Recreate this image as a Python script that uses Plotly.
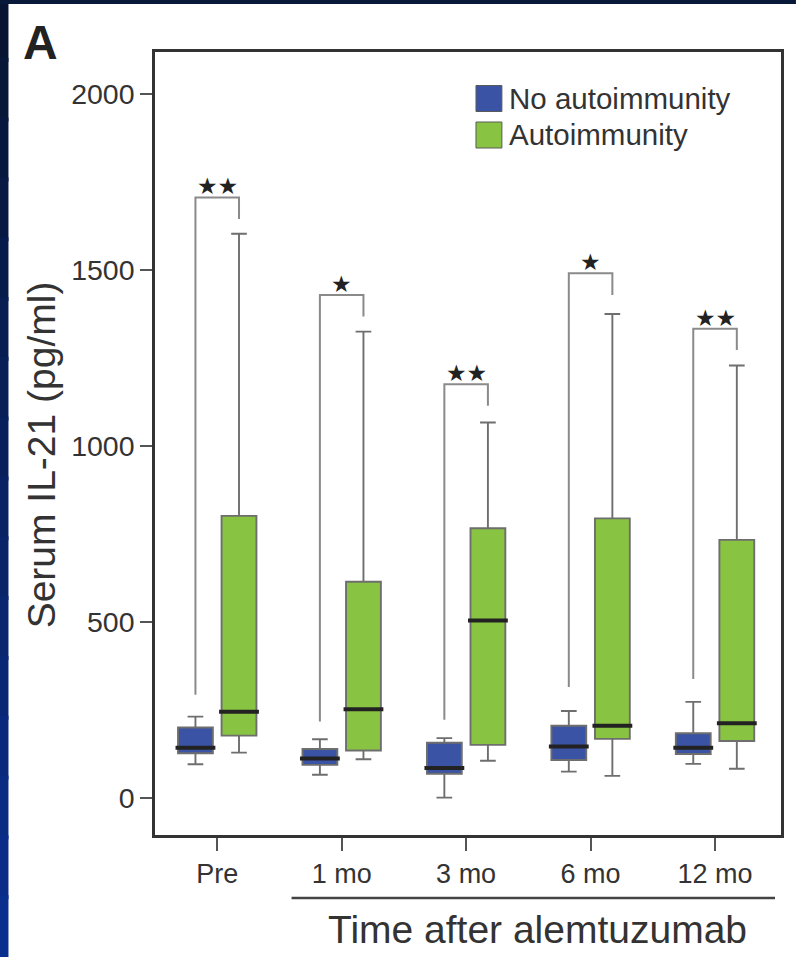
import plotly.graph_objects as go

# ---- data -------------------------------------------------------------
categories = ["Pre", "1 mo", "3 mo", "6 mo", "12 mo"]

# No autoimmunity (box statistics, pg/ml)
no_lower = [97, 67, 2, 76, 98]
no_q1 = [128, 95, 70, 109, 126]
no_median = [144, 113, 86, 147, 144]
no_q3 = [201, 140, 158, 206, 185]
no_upper = [232, 168, 171, 248, 274]

# Autoimmunity (box statistics, pg/ml)
au_lower = [130, 111, 107, 64, 84]
au_q1 = [178, 136, 152, 169, 163]
au_median = [246, 253, 505, 206, 213]
au_q3 = [802, 615, 767, 795, 734]
au_upper = [1603, 1325, 1067, 1375, 1229]

# Significance brackets: top of bracket, end of left leg, end of right leg
bracket_top = [1706, 1429, 1176, 1491, 1333]
bracket_left_end = [294, 218, 223, 316, 339]
bracket_right_end = [1645, 1368, 1115, 1429, 1273]
significance = ["★★", "★", "★★", "★", "★★"]

# ---- styling ----------------------------------------------------------
BLUE = "#3a53a5"
GREEN = "#88c441"
FONT = "Liberation Sans, Arial, sans-serif"
TXT = "#333333"

W, H = 796, 957
L, R, T, B = 155, 783, 52, 835
OFFSET = 0.175
BOX_W = 0.28


def px_x(p):
    return (p - L) / (R - L)


def px_y(p):
    return (B - p) / (B - T)


pos = list(range(len(categories)))
blue_x = [p - OFFSET for p in pos]
green_x = [p + OFFSET for p in pos]

fig = go.Figure()

# significance brackets
bx, by = [], []
for i in pos:
    bx += [blue_x[i], blue_x[i], green_x[i], green_x[i], None]
    by += [bracket_left_end[i], bracket_top[i], bracket_top[i], bracket_right_end[i], None]
fig.add_trace(go.Scatter(x=bx, y=by, mode="lines", line=dict(color="#8a8a8a", width=2),
                         hoverinfo="skip", showlegend=False))

for xs, lo, q1, md, q3, up, col, name in [
    (blue_x, no_lower, no_q1, no_median, no_q3, no_upper, BLUE, "No autoimmunity"),
    (green_x, au_lower, au_q1, au_median, au_q3, au_upper, GREEN, "Autoimmunity"),
]:
    fig.add_trace(go.Box(
        x=xs, q1=q1, median=md, q3=q3, lowerfence=lo, upperfence=up,
        width=BOX_W, whiskerwidth=0.45, fillcolor=col,
        line=dict(color="#6e6e6e", width=1.9), boxpoints=False,
        name=name, showlegend=False,
    ))
    # thick black medians
    mx, my = [], []
    for x, m in zip(xs, md):
        mx += [x - BOX_W / 2 - 0.02, x + BOX_W / 2 + 0.02, None]
        my += [m, m, None]
    fig.add_trace(go.Scatter(x=mx, y=my, mode="lines", line=dict(color="#222222", width=4),
                             hoverinfo="skip", showlegend=False))

annotations = []
for i in pos:
    annotations.append(dict(
        x=(blue_x[i] + green_x[i]) / 2, y=bracket_top[i], xref="x", yref="y",
        text=significance[i], showarrow=False, yanchor="bottom", yshift=-4,
        font=dict(family="DejaVu Sans", size=23, color="#222222"),
    ))

# panel letter
annotations.append(dict(x=px_x(21), y=px_y(14), xref="paper", yref="paper", text="<b>A</b>",
                        showarrow=False, xanchor="left", yanchor="top",
                        font=dict(family=FONT, size=48, color="#222222")))
# axis titles
annotations.append(dict(x=px_x(41), y=px_y(455), xref="paper", yref="paper",
                        text="Serum IL-21 (pg/ml)", textangle=-90, showarrow=False,
                        xanchor="center", yanchor="middle",
                        font=dict(family=FONT, size=39, color=TXT)))
annotations.append(dict(x=px_x(539), y=px_y(929), xref="paper", yref="paper",
                        text="Time after alemtuzumab", showarrow=False,
                        xanchor="center", yanchor="middle",
                        font=dict(family=FONT, size=39, color=TXT)))
# legend
for label, col, yc in [("No autoimmunity", BLUE, 98.5), ("Autoimmunity", GREEN, 135)]:
    annotations.append(dict(x=px_x(508), y=px_y(yc), xref="paper", yref="paper",
                            text=label, showarrow=False, xanchor="left", yanchor="middle",
                            font=dict(family=FONT, size=29.5, color=TXT)))

shapes = []
for col, yc in [(BLUE, 98.5), (GREEN, 135)]:
    shapes.append(dict(type="rect", xref="paper", yref="paper",
                       x0=px_x(477), x1=px_x(503), y0=px_y(yc - 13), y1=px_y(yc + 13),
                       fillcolor=col, line=dict(color="#5a5a5a", width=1)))
# underline for the post-treatment time points
shapes.append(dict(type="line", xref="paper", yref="paper",
                   x0=px_x(292), x1=px_x(777), y0=px_y(898), y1=px_y(898),
                   line=dict(color="#444444", width=2.5)))
# navy page border (left gradient strip and top strip)
n = 16
c0, c1 = (7, 21, 50), (10, 46, 142)
for k in range(n):
    f = k / (n - 1)
    c = tuple(round(a + (b - a) * f) for a, b in zip(c0, c1))
    shapes.append(dict(type="rect", xref="paper", yref="paper", layer="above",
                       x0=px_x(-2), x1=px_x(8), y0=px_y(H * (k + 1) / n + 2), y1=px_y(H * k / n - 2),
                       fillcolor="rgb(%d,%d,%d)" % c, line=dict(width=0)))
shapes.append(dict(type="rect", xref="paper", yref="paper", layer="above",
                   x0=px_x(-2), x1=px_x(W + 2), y0=px_y(4), y1=px_y(-2),
                   fillcolor="rgb(8,24,56)", line=dict(width=0)))

fig.update_layout(
    width=W, height=H,
    margin=dict(l=L, r=W - R, t=T, b=H - B),
    paper_bgcolor="white", plot_bgcolor="white",
    showlegend=False,
    annotations=annotations, shapes=shapes,
    xaxis=dict(range=[-0.5, 4.53], tickvals=pos, ticktext=categories,
               ticks="outside", ticklen=13, tickwidth=1.5, tickcolor="#555555",
               showline=True, linewidth=2.5, linecolor="#333333", mirror=True,
               showgrid=False, zeroline=False,
               tickfont=dict(family=FONT, size=27, color=TXT)),
    yaxis=dict(range=[-104, 2119], tickvals=[0, 500, 1000, 1500, 2000],
               ticks="outside", ticklen=12, tickwidth=1.5, tickcolor="#555555",
               showline=True, linewidth=2.5, linecolor="#333333", mirror=True,
               showgrid=False, zeroline=False,
               tickfont=dict(family=FONT, size=28.5, color=TXT)),
)

fig.write_html("out.html")
